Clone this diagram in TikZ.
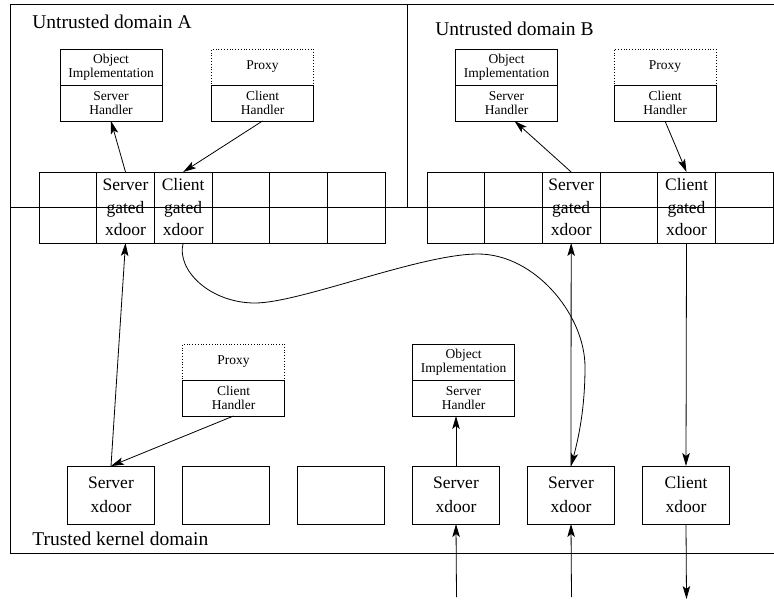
\documentclass[tikz,border=0pt]{standalone}
\usepackage{fontspec}
\setmainfont{Liberation Serif}
\usetikzlibrary{positioning}
\usetikzlibrary{arrows.meta}
\newcommand{\gatedtext}[1]{#1\\gated\\xdoor}
\tikzset{
	boxnode/.style = {
		align=center,
		inner sep=0pt,
		outer sep=0pt,
		text centered,
		draw=black,
		line width=0.8pt
	},
	node_cell/.style = {
		boxnode,
		font=\fontsize{17.5}{22.5}\selectfont,
		minimum width=57.7pt,
		minimum height=71pt
	},
	node_xdoor/.style = {
		boxnode,
		font=\fontsize{17.5}{24}\selectfont,
		minimum width=87pt,
		minimum height=58pt
	},
	node_obj/.style = {
		boxnode,
		font=\fontsize{13.5}{14.4}\selectfont,
		minimum width=102pt,
		minimum height=36pt
	},
	node_proxy/.style = {
		node_obj,
		dotted
	},
	node_label/.style = {
		anchor=base west,
		inner sep=0pt,
		font=\fontsize{19.5}{23}\selectfont
	},
}

\begin{document}
\begin{tikzpicture}[x=1pt, y=1pt, line width=0.8pt, >={Stealth[length=13pt,width=7.5pt,inset=3pt]}]
\useasboundingbox (0,0) rectangle (774,-600);
% domain frames
\draw (774,-4) -- (10,-4) -- (10,-553) -- (774,-553);
\draw (10,-207) -- (774,-207);
\draw (407,-4) -- (407,-207);
\node [node_label] (labA) at (32,-28) {Untrusted domain A};
\node [node_label] (labB) at (435,-35) {Untrusted domain B};
\node [node_label] (labK) at (32,-545) {Trusted kernel domain};

% gated xdoor tables
\foreach \i/\txt in {1/{},2/{\gatedtext{Server}},3/{\gatedtext{Client}},4/{},5/{},6/{}}
	\node [node_cell] (ga\i) at ({39+57.67*(\i-0.5)},-207.5) {\txt};
\foreach \i/\txt in {1/{},2/{},3/{\gatedtext{Server}},4/{},5/{\gatedtext{Client}},6/{}}
	\node [node_cell] (gb\i) at ({427+57.67*(\i-0.5)},-207.5) {\txt};

% kernel xdoors
\foreach \i/\txt in {1/{Server\\xdoor},2/{},3/{},4/{Server\\xdoor},5/{Server\\xdoor},6/{Client\\xdoor}}
	\node [node_xdoor] (xd\i) at ({111+115*(\i-1)},-495) {\txt};

% objects, proxies and handlers
\node [node_obj] (objA) at (111,-67) {Object\\Implementation};
\node [node_obj, below=0pt of objA] (hsA) {Server\\Handler};
\node [node_proxy] (pxA) at (262.5,-67) {Proxy};
\node [node_obj, below=0pt of pxA] (hcA) {Client\\Handler};

\node [node_obj] (objB) at (506.5,-67) {Object\\Implementation};
\node [node_obj, below=0pt of objB] (hsB) {Server\\Handler};
\node [node_proxy] (pxB) at (665,-67) {Proxy};
\node [node_obj, below=0pt of pxB] (hcB) {Client\\Handler};

\node [node_proxy] (pxK) at (233.5,-362) {Proxy};
\node [node_obj, below=0pt of pxK] (hcK) {Client\\Handler};
\node [node_obj] (objK) at (463.5,-362) {Object\\Implementation};
\node [node_obj, below=0pt of objK] (hsK) {Server\\Handler};

\coordinate (in4) at (456.5,-597);
\coordinate (in5) at (571.5,-597);
\coordinate (out6) at (686.5,-599);
\coordinate (cbot) at (255,-303);
\coordinate (ctop) at (478,-254);
\coordinate (cright) at (585,-367);

% invocations
\draw [->] (ga2.north) -- (hsA.south);
\draw [->] (hcA.south) -- (ga3.north);
\draw [->] (gb3.north) -- ([xshift=8pt]hsB.south);
\draw [->] (hcB.south) -- (gb5.north);
\draw [->] (hcK.south) -- (xd1.north);
\draw [->] (xd1.north) -- (ga2.south);
\draw [->] (xd4.north) -- (xd4.north |- hsK.south);
\draw [->] (xd5.north) -- (gb3.south);
\draw [->] (gb5.south) -- (xd6.north);
\draw [->] (in4) -- (xd4.south);
\draw [->] (in5) -- (xd5.south);
\draw [->] (xd6.south) -- (out6);
\draw [->] (ga3.south) .. controls (176,-270) and (210,-303) .. (cbot)
	.. controls (300,-303) and (420,-254) .. (ctop)
	.. controls (535,-254) and (585,-315) .. (cright)
	.. controls (585,-410) and (578,-440) .. (xd5.north);
\end{tikzpicture}
\end{document}
